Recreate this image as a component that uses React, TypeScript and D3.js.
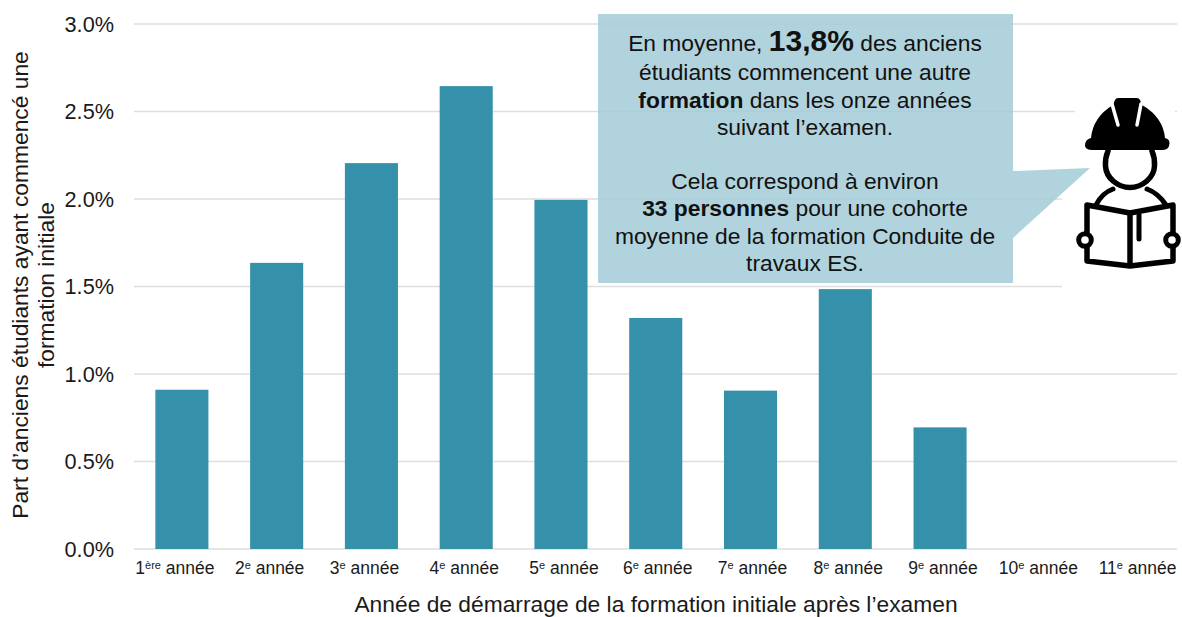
import React from "react";
import * as d3 from "d3";

const ordinals = ["1", "2", "3", "4", "5", "6", "7", "8", "9", "10", "11"];
const suffixes = ["ère", "e", "e", "e", "e", "e", "e", "e", "e", "e", "e"];
const shares = [0.91, 1.635, 2.205, 2.645, 1.995, 1.32, 0.905, 1.485, 0.695, 0, 0];
const yTicks = [0, 0.5, 1, 1.5, 2, 2.5, 3];
const xTitle = "Année de démarrage de la formation initiale après l’examen";
const yTitle = ["Part d’anciens étudiants ayant commencé une", "formation initiale"];

const W = 1182, H = 617;
const FONT = "'Liberation Sans', Arial, sans-serif";
const x = d3.scaleBand<string>().domain(ordinals).range([134.5, 1177]).paddingInner(0.44).paddingOuter(0.22);
const y = d3.scaleLinear().domain([0, 3]).range([549, 24]);
const labelShift = [-7, -7, -7, -2, 3, 2, 2, 3, 3, 3.5, 8];

const calloutPath = "M598 14H1013V171L1090 168L1013 238V283H598Z";
const lines: { y: number; parts: { t: string; b?: boolean; s?: number }[] }[] = [
  { y: 51, parts: [{ t: "En moyenne, " }, { t: "13,8%", b: true, s: 30 }, { t: " des anciens" }] },
  { y: 80, parts: [{ t: "étudiants commencent une autre" }] },
  { y: 108, parts: [{ t: "formation", b: true }, { t: " dans les onze années" }] },
  { y: 135, parts: [{ t: "suivant l’examen." }] },
  { y: 189, parts: [{ t: "Cela correspond à environ" }] },
  { y: 216, parts: [{ t: "33 personnes", b: true }, { t: " pour une cohorte" }] },
  { y: 244, parts: [{ t: "moyenne de la formation Conduite de" }] },
  { y: 271, parts: [{ t: "travaux ES." }] },
];

function Worker() {
  return (
    <g>
      <path d="M1085 146Q1085 139 1091 138Q1093 117 1113 105L1115 100Q1116 98 1118 98H1137Q1139 98 1140 100L1142 105Q1163 117 1165 138Q1171 139 1169 146Q1168 150 1162 150H1092Q1086 150 1085 146Z" fill="#000" />
      <path d="M1112 104L1118 125M1141 104L1137 125" stroke="#fff" strokeWidth={3.5} fill="none" strokeLinecap="round" />
      <g fill="none" stroke="#000" strokeLinejoin="round" strokeLinecap="round">
        <path d="M1108 151Q1105 158 1105.5 166C1106 178 1118 187.5 1130 187.5C1142 187.5 1154 178 1154.5 166Q1155 158 1152 151" strokeWidth={5.5} />
        <path d="M1096 205Q1102 193 1113 189M1147 189Q1158 193 1166 205" strokeWidth={5} />
        <path d="M1087 232V205L1130 213L1173 205V232M1173 248V261L1130 266L1087 261V248" strokeWidth={5.5} />
        <path d="M1130 214V265" strokeWidth={5.5} />
        <path d="M1139 215V239" strokeWidth={5} />
        <circle cx={1085} cy={240} r={6.3} strokeWidth={5} />
        <circle cx={1172} cy={240} r={6.3} strokeWidth={5} />
      </g>
    </g>
  );
}

export default function App() {
  return (
    <svg width={W} height={H} viewBox={`0 0 ${W} ${H}`} fontFamily={FONT}
      style={{ position: "absolute", left: 0, top: 0, background: "#fff" }}>
      {yTicks.map((t) => (
        <g key={t}>
          <line x1={134} x2={1177} y1={y(t)} y2={y(t)} stroke="#dedede" strokeWidth={1.3} />
          <text x={114} y={y(t) + 7.5} textAnchor="end" fontSize={21.7} fill="#1a1a1a">{t.toFixed(1)}%</text>
        </g>
      ))}
      <rect x={1075} y={96} width={100} height={54} fill="#fff" />
      <rect x={1062} y={150} width={120} height={142} fill="#fff" />
      {ordinals.map((c, i) => (
        <rect key={c} x={x(c)} y={y(shares[i])} width={x.bandwidth()} height={y(0) - y(shares[i])} fill="#3591aa" />
      ))}
      {ordinals.map((c, i) => (
        <text key={c} x={x(c)! + x.bandwidth() / 2 + labelShift[i]} y={574} textAnchor="middle" fontSize={17.5} fill="#1a1a1a">
          {c}<tspan fontSize={11} dy={-5}>{suffixes[i]}</tspan><tspan dy={5}> année</tspan>
        </text>
      ))}
      <text x={656} y={612} textAnchor="middle" fontSize={22.8} fill="#1a1a1a">{xTitle}</text>
      {yTitle.map((l, i) => (
        <text key={l} transform={`translate(${28 + i * 26},285) rotate(-90)`} textAnchor="middle" fontSize={22.8} fill="#1a1a1a">{l}</text>
      ))}
      <Worker />
      <path d={calloutPath} fill="#a3cbd7" fillOpacity={0.85} />
      {lines.map((l) => (
        <text key={l.y} x={805} y={l.y} textAnchor="middle" fontSize={22.8} fill="#111">
          {l.parts.map((p, i) => (
            <tspan key={i} fontWeight={p.b ? 700 : 400} fontSize={p.s ?? 22.8}>{p.t}</tspan>
          ))}
        </text>
      ))}
    </svg>
  );
}
